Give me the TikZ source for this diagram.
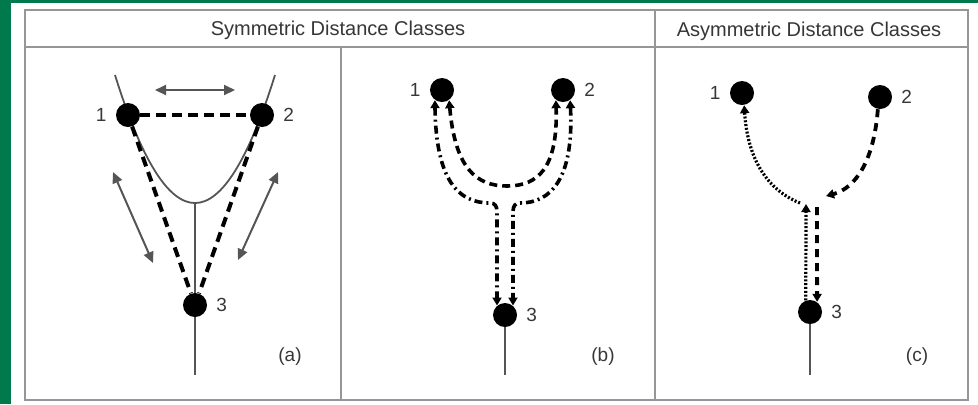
\documentclass[tikz,border=0pt]{standalone}
\usepackage{fontspec}
\setmainfont{Liberation Sans}
\usetikzlibrary{arrows.meta,backgrounds}
\definecolor{grn}{RGB}{0,122,76}
\definecolor{frm}{RGB}{150,150,150}
\definecolor{txt}{RGB}{55,55,55}
\definecolor{thin}{RGB}{85,85,85}
\begin{document}
\begin{tikzpicture}[x=0.5pt,y=-0.5pt,
  dot/.style={circle,fill=black,inner sep=0pt,minimum size=12pt},
  lab/.style={font=\fontsize{9.5}{11}\selectfont,text=txt},
  nlab/.style={label distance=1pt,lab},
  head/.style={font=\fontsize{10}{12}\selectfont,text=txt},
  frame/.style={draw=frm,line width=1.4pt},
  thinline/.style={draw=thin,line width=0.9pt},
  dbl/.style={draw=thin,line width=1pt,{Triangle[length=5.5pt,width=5pt]}-{Triangle[length=5.5pt,width=5pt]}},
  dsha/.style={draw=black,line width=2pt,dash pattern=on 5pt off 3pt},
  dshb/.style={draw=black,line width=1.8pt,dash pattern=on 4pt off 2.5pt,{Triangle[length=4pt,width=4.5pt]}-{Triangle[length=4pt,width=4.5pt]}},
  dotdshb/.style={draw=black,line width=1.8pt,dash pattern=on 4pt off 2pt on 1pt off 2pt,{Triangle[length=4pt,width=4.5pt]}-{Triangle[length=4pt,width=4.5pt]}},
  dotc/.style={draw=black,line width=1.6pt,dash pattern=on 1pt off 0.9pt,-{Triangle[length=4pt,width=4.5pt]}},
  dshc/.style={draw=black,line width=1.9pt,dash pattern=on 4pt off 3pt,-{Triangle[length=4pt,width=4.5pt]}}
]
\useasboundingbox (0,0) rectangle (978,404);
\begin{scope}[on background layer]
  \fill[white] (0,0) rectangle (978,404);
  \fill[grn] (0,0) rectangle (11,404);
  \fill[grn] (0,0) rectangle (978,3);
\end{scope}

% frame
\draw[frame] (25,10) rectangle (968,400);
\draw[frame] (25,47) -- (968,47);
\draw[frame] (341,47) -- (341,400);
\draw[frame] (655,10) -- (655,400);
\node[head] (h1) at (338,30) {Symmetric Distance Classes};
\node[head] (h2) at (809,31) {Asymmetric Distance Classes};

% ---------- panel (a)
\node[dot,label={[nlab]left:1}] (a1) at (128,115) {};
\node[dot,label={[nlab]right:2}] (a2) at (262,115) {};
\node[dot,label={[nlab]right:3}] (a3) at (195,305) {};
\coordinate (aTL) at (115,75);
\coordinate (aTR) at (275,75);
\coordinate (aU) at (195,203);
\coordinate (aB) at (195,375);
\coordinate (aH1) at (155,90);
\coordinate (aH2) at (235,90);
\coordinate (aL1) at (113,172);
\coordinate (aL2) at (153,263);
\coordinate (aR1) at (278,172);
\coordinate (aR2) at (238,260);
\node[lab] (alab) at (290,357) {(a)};
\begin{scope}[on background layer]
  \draw[thinline] (aTL) .. controls (168.3,245.7) and (221.7,245.7) .. (aTR);
  \draw[thinline] (aU) -- (aB);
\end{scope}
\draw[dsha] (a1) -- (a2);
\draw[dsha] (a1) -- (a3);
\draw[dsha] (a2) -- (a3);
\draw[dbl] (aH1) -- (aH2);
\draw[dbl] (aL1) -- (aL2);
\draw[dbl] (aR1) -- (aR2);

% ---------- panel (b)
\node[dot,label={[nlab]left:1}] (b1) at (442,90) {};
\node[dot,label={[nlab]right:2}] (b2) at (563,90) {};
\node[dot,label={[nlab]right:3}] (b3) at (505,315) {};
\coordinate (bB) at (505,375);
\node[lab] (blab) at (603,357) {(b)};
\begin{scope}[on background layer]
  \draw[thinline] (b3) -- (bB);
\end{scope}
\draw[dshb] (b1.-55) .. controls (455,168) and (476,186) .. (507,186)
            .. controls (538,186) and (558,168) .. (b2.-125);
\draw[dotdshb] (b1.-125) .. controls (436,180) and (458,203) .. (490,203)
            .. controls (495,203) and (497,206) .. (497,212) -- (b3.130);
\draw[dotdshb] (b2.-55) .. controls (574,180) and (550,203) .. (520,203)
            .. controls (515,203) and (513,206) .. (513,212) -- (b3.50);

% ---------- panel (c)
\node[dot,label={[nlab]left:1}] (c1) at (742,93) {};
\node[dot,label={[nlab]right:2}] (c2) at (880,97) {};
\node[dot,label={[nlab]right:3}] (c3) at (810,312) {};
\coordinate (cB) at (810,375);
\coordinate (cJL) at (806,204);
\coordinate (cJS) at (800,203);
\coordinate (cJR) at (826,196);
\coordinate (cJD) at (817,207);
\node[lab] (clab) at (917,357) {(c)};
\begin{scope}[on background layer]
  \draw[thinline] (c3) -- (cB);
\end{scope}
\draw[dotc] (c3.110) -- (cJL);
\draw[dotc] (cJS) .. controls (772,192) and (748,165) .. (c1.-80);
\draw[dshc] (c2.-100) .. controls (874,160) and (856,188) .. (cJR);
\draw[dshc] (cJD) -- (c3.55);
\end{tikzpicture}
\end{document}
